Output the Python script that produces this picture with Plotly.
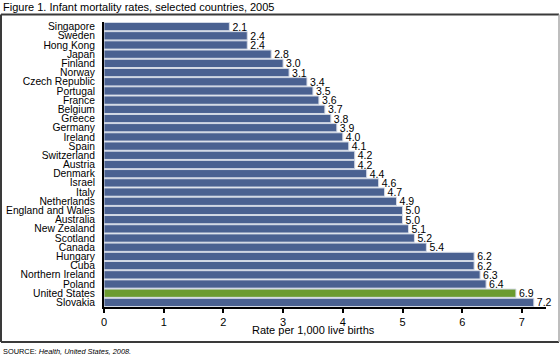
import plotly.graph_objects as go

countries = ["Singapore", "Sweden", "Hong Kong", "Japan", "Finland", "Norway",
             "Czech Republic", "Portugal", "France", "Belgium", "Greece", "Germany",
             "Ireland", "Spain", "Switzerland", "Austria", "Denmark", "Israel",
             "Italy", "Netherlands", "England and Wales", "Australia", "New Zealand",
             "Scotland", "Canada", "Hungary", "Cuba", "Northern Ireland", "Poland",
             "United States", "Slovakia"]
rates = [2.1, 2.4, 2.4, 2.8, 3.0, 3.1, 3.4, 3.5, 3.6, 3.7, 3.8, 3.9, 4.0, 4.1,
         4.2, 4.2, 4.4, 4.6, 4.7, 4.9, 5.0, 5.0, 5.1, 5.2, 5.4, 6.2, 6.2, 6.3,
         6.4, 6.9, 7.2]
x_ticks = [0, 1, 2, 3, 4, 5, 6, 7]

BLUE = "#4a6191"
GREEN = "#6b9b2f"
colors = [GREEN if c == "United States" else BLUE for c in countries]

W, H = 560, 356
L, R, T, B = 104, 14, 22, 49
pw, ph = W - L - R, H - T - B
unit = 59.7
xmax = pw / unit

def px(x):
    return (x - L) / pw

def py(y):
    return (H - B - y) / ph

font = "Liberation Sans, Arial, sans-serif"

fig = go.Figure(go.Bar(
    x=rates, y=countries, orientation="h",
    marker=dict(color=colors, line=dict(color="#d4dae6", width=1)),
    text=[f"{v:.1f}" for v in rates], textposition="outside",
    constraintext="none",
    textfont=dict(family=font, size=10.5, color="#000"),
    cliponaxis=False, width=0.9,
))

fig.update_layout(
    width=W, height=H, margin=dict(l=L, r=R, t=T, b=B, pad=0, autoexpand=False),
    paper_bgcolor="white", plot_bgcolor="white", showlegend=False,
    font=dict(family=font, size=10.5, color="#000"),
    xaxis=dict(range=[0, xmax], tickvals=x_ticks, ticks="outside", ticklen=4,
               tickwidth=1.5, tickcolor="#000", showgrid=False, zeroline=False,
               showline=True, linecolor="#000", linewidth=1.5,
               tickfont=dict(size=11), automargin=False),
    yaxis=dict(range=[len(countries) - 0.5, -0.5], showgrid=False, zeroline=False,
               tickmode="array", tickvals=countries, ticktext=countries,
               showline=True, linecolor="#000", linewidth=2, ticks="",
               ticklabelstandoff=5, tickfont=dict(size=10.3), automargin=False),
    bargap=0.1,
)

fig.add_annotation(text="Rate per 1,000 live births", x=px(313), y=py(330),
                   xref="paper", yref="paper", showarrow=False,
                   xanchor="center", yanchor="middle", font=dict(size=11))
fig.add_annotation(text="Figure 1. Infant mortality rates, selected countries, 2005",
                   x=px(1), y=py(7), xref="paper", yref="paper", showarrow=False,
                   xanchor="left", yanchor="middle", font=dict(size=11))
fig.add_annotation(text="SOURCE: <i>Health, United States, 2008.</i>",
                   x=px(1), y=py(351), xref="paper", yref="paper", showarrow=False,
                   xanchor="left", yanchor="middle", font=dict(size=7.4))

dark = "#3a3a3a"
for (x0, y0, x1, y1, c, w) in [
    (1, 14.5, 559, 14.5, dark, 2),
    (1, 14.5, 1, 342, dark, 2),
    (1, 342, 559, 342, dark, 2),
    (559, 14.5, 559, 342, "#a8a8a8", 1.5),
]:
    fig.add_shape(type="line", xref="paper", yref="paper",
                  x0=px(x0), y0=py(y0), x1=px(x1), y1=py(y1),
                  line=dict(color=c, width=w))

fig.write_html("out.html", config={"displayModeBar": False},
               post_script="document.body.style.margin='0px';")
